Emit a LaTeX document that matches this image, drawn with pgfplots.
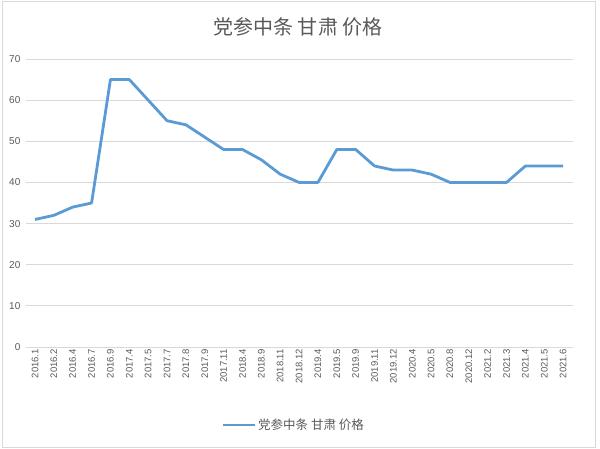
\documentclass[border=0pt]{standalone}
\usepackage{fontspec}
\setmainfont{Liberation Sans}
\newfontfamily\cjk{Noto Sans CJK SC}
\usepackage{pgfplots}
\pgfplotsset{compat=1.18}
\definecolor{lineblue}{HTML}{5B9BD5}
\definecolor{ticktext}{HTML}{595959}
\definecolor{gridgray}{HTML}{D9D9D9}

\begin{document}
\begin{tikzpicture}[x=1bp,y=1bp]
\path[use as bounding box] (0,0) rectangle (600,449);
\draw[gridgray, line width=0.9bp] (2,2) rectangle (595,448);
\begin{axis}[
  at={(35bp,102bp)}, anchor=origin,
  scale only axis,
  width=547bp, height=288bp,
  xmin=-0.5, xmax=28.5,
  ymin=0, ymax=70,
  ytick={0,10,...,70},
  xtick={0,...,28},
  xticklabels={2016.1,2016.2,2016.4,2016.7,2016.9,2017.4,2017.5,2017.7,2017.8,2017.9,2017.11,2018.4,2018.9,2018.11,2018.12,2019.4,2019.5,2019.9,2019.11,2019.12,2020.4,2020.5,2020.8,2020.12,2021.2,2021.3,2021.4,2021.5,2021.6},
  x tick label style={rotate=90, anchor=east, font=\fontsize{9.5bp}{11bp}\selectfont, text=ticktext, inner sep=2bp},
  y tick label style={font=\fontsize{10bp}{12bp}\selectfont, text=ticktext, inner sep=2bp},
  /pgf/number format/assume math mode=true,
  axis x line*=bottom,
  axis y line*=left,
  y axis line style={draw=none},
  x axis line style={gridgray, line width=0.9bp},
  ymajorgrids,
  grid style={gridgray, line width=0.9bp},
  major tick length=0pt,
  yticklabel style={xshift=-3bp},
  clip=false,
]
\addplot[lineblue, line width=2.8bp, line join=round] coordinates {
  (0,31) (1,32) (2,34) (3,35) (4,65) (5,65) (6,60) (7,55) (8,54) (9,51)
  (10,48) (11,48) (12,45.5) (13,42) (14,40) (15,40) (16,48) (17,48) (18,44) (19,43)
  (20,43) (21,42) (22,40) (23,40) (24,40) (25,40) (26,44) (27,44) (28,44)
};
\end{axis}
\node[text=ticktext, font=\cjk\fontsize{20bp}{22bp}\selectfont] at (298,422) {党参中条 甘肃 价格};
\draw[lineblue, line width=2.8bp] (223,24) -- (255,24);
\node[anchor=west, text=ticktext, font=\cjk\fontsize{12.5bp}{14bp}\selectfont, inner sep=0pt] at (258,24) {党参中条 甘肃 价格};
\end{tikzpicture}
\end{document}
